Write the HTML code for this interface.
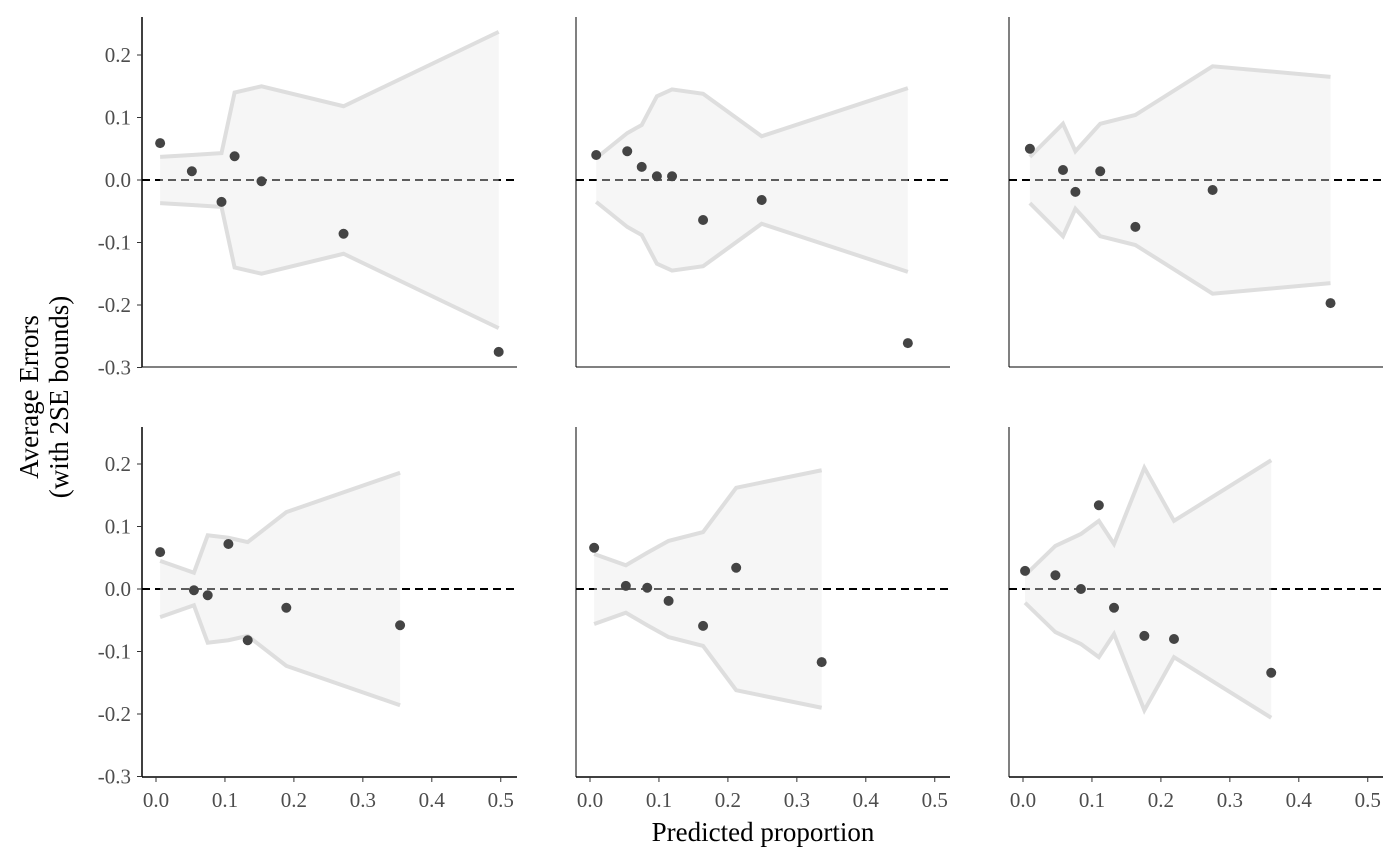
<!DOCTYPE html>
<html><head><meta charset="utf-8"><style>
body{margin:0;background:#fff}
svg{display:block;font-family:"Liberation Serif",serif}
</style></head><body>
<svg id="chart" width="1400" height="866" viewBox="0 0 1400 866"></svg>
<script>
// Panel data: predicted proportion (x), average error (y), 2SE bound (se)
const p1x=[0.006,0.052,0.095,0.114,0.153,0.272,0.497];
const p1y=[0.059,0.014,-0.035,0.038,-0.002,-0.086,-0.275];
const p1se=[0.037,0.040,0.043,0.140,0.150,0.118,0.237];
const p2x=[0.009,0.054,0.075,0.097,0.119,0.164,0.249,0.461];
const p2y=[0.040,0.046,0.021,0.006,0.006,-0.064,-0.032,-0.261];
const p2se=[0.035,0.075,0.088,0.134,0.145,0.138,0.070,0.147];
const p3x=[0.010,0.058,0.076,0.112,0.163,0.275,0.446];
const p3y=[0.050,0.016,-0.019,0.014,-0.075,-0.016,-0.197];
const p3se=[0.037,0.090,0.046,0.090,0.104,0.182,0.165];
const p4x=[0.006,0.055,0.075,0.105,0.133,0.189,0.354];
const p4y=[0.059,-0.002,-0.010,0.072,-0.082,-0.030,-0.058];
const p4se=[0.045,0.026,0.086,0.082,0.075,0.123,0.186];
const p5x=[0.006,0.052,0.083,0.114,0.164,0.212,0.336];
const p5y=[0.066,0.005,0.002,-0.019,-0.059,0.034,-0.117];
const p5se=[0.056,0.038,0.058,0.077,0.091,0.162,0.190];
const p6x=[0.003,0.047,0.084,0.110,0.132,0.176,0.219,0.360];
const p6y=[0.029,0.022,0.000,0.134,-0.030,-0.075,-0.080,-0.134];
const p6se=[0.022,0.069,0.088,0.109,0.072,0.194,0.109,0.206];
const yTicks=[0.2,0.1,0.0,-0.1,-0.2,-0.3];
const yTickLabels=["0.2","0.1","0.0","-0.1","-0.2","-0.3"];
const xTicks=[0,0.1,0.2,0.3,0.4,0.5];
const xTickLabels=["0.0","0.1","0.2","0.3","0.4","0.5"];

const NS="http://www.w3.org/2000/svg";
const svg=document.getElementById('chart');
function mk(tag,attrs,parent,text){const e=document.createElementNS(NS,tag);for(const k in attrs)e.setAttribute(k,attrs[k]);if(text!==undefined)e.textContent=text;(parent||svg).appendChild(e);return e;}

const cols=[{l:142,r:517,x0:156},{l:576,r:950,x0:590},{l:1009,r:1383,x0:1023}];
const rows=[{t:17,b:367,y0:180},{t:427,b:777,y0:589}];
const panels=[[p1x,p1y,p1se],[p2x,p2y,p2se],[p3x,p3y,p3se],[p4x,p4y,p4se],[p5x,p5y,p5se],[p6x,p6y,p6se]];

panels.forEach((d,i)=>{
  const c=cols[i%3], r=rows[Math.floor(i/3)];
  const sx=v=>c.x0+v*689.5;
  const sy=v=>r.y0-v*625;
  const g=mk('g',{});
  
  
  const [xs,ys,se]=d;
  let up=xs.map((x,j)=>sx(x)+','+sy(se[j]));
  let lo=xs.map((x,j)=>sx(x)+','+sy(-se[j]));
  const z=mk('line',{x1:c.l,x2:c.r,y1:sy(0),y2:sy(0),stroke:'#000','stroke-width':2,'stroke-dasharray':'8,5'},g);
  
  
  const band=mk('polygon',{points:up.concat(lo.slice().reverse()).join(' '),fill:'#e8e8e8','fill-opacity':0.4},g);
  
  
  const u=mk('polyline',{points:up.join(' '),fill:'none',stroke:'#dedede','stroke-width':4,'stroke-linejoin':'miter'},g);
  
  
  const l=mk('polyline',{points:lo.join(' '),fill:'none',stroke:'#dedede','stroke-width':4},g);
  
  
  xs.forEach((x,j)=>{
    const pt=mk('circle',{cx:sx(x),cy:sy(ys[j]),r:5,fill:'#444'},g);
    
    
  });
  const ya=mk('line',{x1:c.l,x2:c.l,y1:r.t,y2:r.b,stroke:'#000','stroke-width':i%3==0?1.5:1},g);
  
  
  const xa=mk('line',{x1:c.l,x2:c.r,y1:r.b,y2:r.b,stroke:'#000','stroke-width':i>=3?1.5:1},g);
  
  
  if(i%3==0){
    yTicks.forEach((t,j)=>{
      const tk=mk('line',{x1:c.l-5,x2:c.l,y1:sy(t),y2:sy(t),stroke:'#333'},g);
      
      
      const tl=mk('text',{x:c.l-11,y:sy(t)+7,'text-anchor':'end','font-size':21,fill:'#4d4d4d'},g,yTickLabels[j]);
      
      
    });
  }
  if(i>=3){
    xTicks.forEach((t,j)=>{
      const tk=mk('line',{x1:sx(t),x2:sx(t),y1:r.b,y2:r.b+5,stroke:'#333'},g);
      
      
      const tl=mk('text',{x:sx(t),y:r.b+30,'text-anchor':'middle','font-size':21,fill:'#4d4d4d'},g,xTickLabels[j]);
      
      
    });
  }
});
const yt=mk('text',{transform:'translate(46,397) rotate(-90)','text-anchor':'middle','font-size':27,fill:'#000'});


mk('tspan',{x:0,dy:-8},yt,'Average Errors');
mk('tspan',{x:0,dy:30},yt,'(with 2SE bounds)');
const xt=mk('text',{x:763,y:841,'text-anchor':'middle','font-size':27,fill:'#000'},svg,'Predicted proportion');


</script>
</body></html>
